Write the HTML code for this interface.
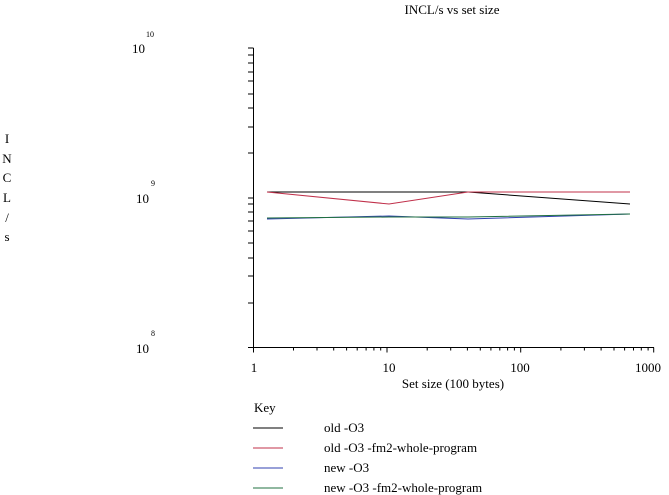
<!DOCTYPE html>
<html><head><style>body{margin:0;background:#fff}svg{display:block}text{font-family:"Liberation Serif",serif;fill:#000}</style></head>
<body>
<svg width="669" height="495" xmlns="http://www.w3.org/2000/svg">
<text x="452" y="14" font-size="13" text-anchor="middle">INCL/s vs set size</text>
<g font-size="13" text-anchor="middle">
<text x="7" y="143">I</text><text x="7" y="163">N</text><text x="7" y="182">C</text><text x="7" y="202">L</text><text x="7" y="222">/</text><text x="7" y="241">s</text>
</g>
<g font-size="13">
<text x="132" y="53">10</text><text x="146" y="37" font-size="8">10</text>
<text x="136" y="203">10</text><text x="151" y="186" font-size="8">9</text>
<text x="136" y="353">10</text><text x="151" y="336" font-size="8">8</text>
</g>
<g font-size="13" text-anchor="middle">
<text x="254" y="372">1</text><text x="389" y="372">10</text><text x="520" y="372">100</text><text x="648" y="372">1000</text>
<text x="453" y="388">Set size (100 bytes)</text>
</g>
<g stroke="#000" stroke-width="1" fill="none">
<path d="M253.5 48V347.5H654"/>
<path d="M248 48H253.5M248 198H253.5M248 347.5H253.5
M248 303H253 M248 276H253 M248 258H253 M248 243H253 M248 231H253 M248 221H253 M248 212H253 M248 204H253
M248 153H253 M248 127H253 M248 108H253 M248 94H253 M248 81H253 M248 72H253 M248 63H253 M248 55H253"/>
<path d="M253.5 347.5v5M387 347.5v5M520.7 347.5v5M653.7 347.5v5
M293.5 347.5v3M317 347.5v3M333.7 347.5v3M346.6 347.5v3M357.2 347.5v3M366.1 347.5v3M373.9 347.5v3M380.7 347.5v3
M427.2 347.5v3M450.7 347.5v3M467.4 347.5v3M480.3 347.5v3M490.9 347.5v3M499.8 347.5v3M507.6 347.5v3M514.4 347.5v3
M560.9 347.5v3M584.4 347.5v3M601.1 347.5v3M614 347.5v3M624.6 347.5v3M633.5 347.5v3M641.3 347.5v3M648.1 347.5v3"/>
</g>
<g fill="none" stroke-width="1">
<polyline stroke="#000" points="267,192 389,192 468,192 630,204"/>
<polyline stroke="#c0304a" points="267,192 389,204 468,192 630,192"/>
<polyline stroke="#3040b0" points="267,219 389,216 468,219 630,214"/>
<polyline stroke="#207040" points="267,218 389,217 468,217 630,214"/>
</g>
<text x="254" y="412" font-size="13">Key</text>
<g stroke-width="1">
<line x1="253" y1="428" x2="283" y2="428" stroke="#000"/>
<line x1="253" y1="448" x2="283" y2="448" stroke="#c0304a"/>
<line x1="253" y1="468" x2="283" y2="468" stroke="#3040b0"/>
<line x1="253" y1="488" x2="283" y2="488" stroke="#207040"/>
</g>
<g font-size="13">
<text x="324" y="432">old -O3</text>
<text x="324" y="452">old -O3 -fm2-whole-program</text>
<text x="324" y="472">new -O3</text>
<text x="324" y="492">new -O3 -fm2-whole-program</text>
</g>
</svg>
</body></html>
